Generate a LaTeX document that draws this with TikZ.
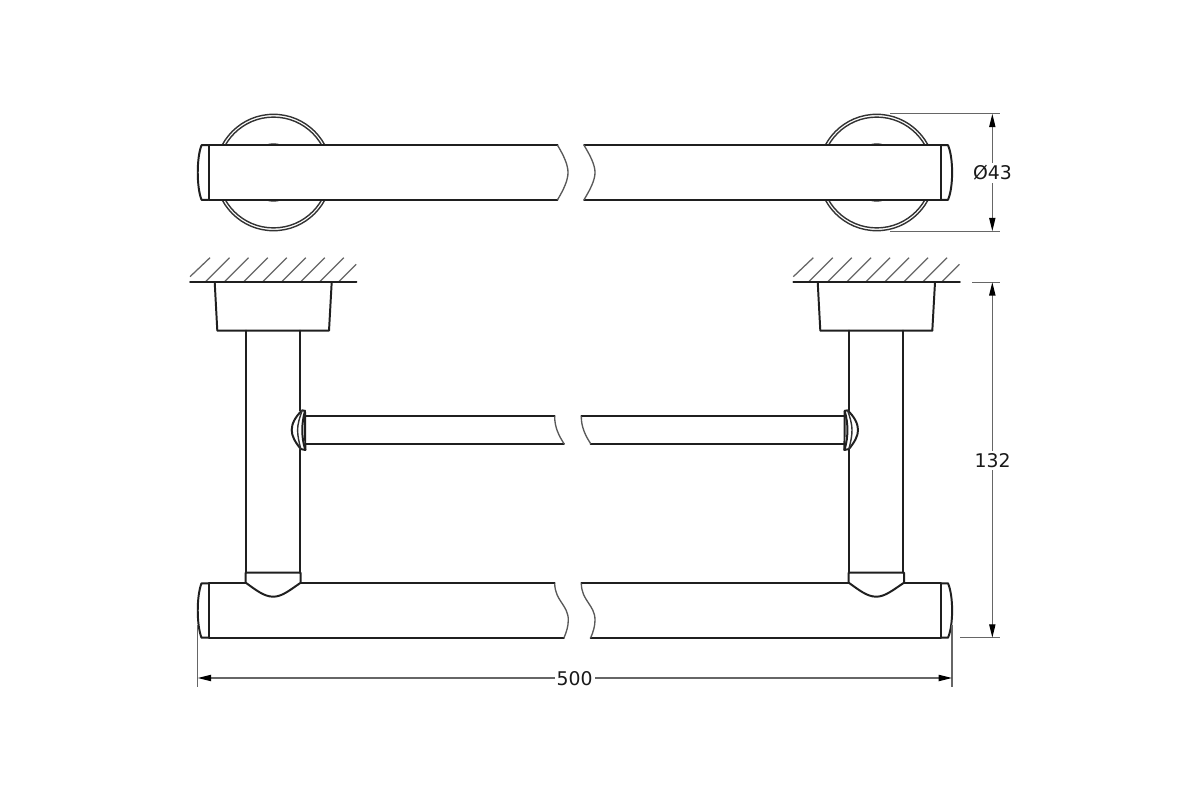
\documentclass[tikz,border=0pt]{standalone}
\usepackage{fontspec}
\setmainfont{DejaVu Sans}
\usetikzlibrary{arrows.meta}
\definecolor{dimgrey}{HTML}{666666}
\tikzset{
  outline/.style={draw=black!88,line width=1.4pt,line join=round,line cap=round},
  ring/.style={draw=black!80,line width=1pt},
  thinbreak/.style={draw=black!65,line width=0.95pt},
  hatchline/.style={draw=dimgrey,line width=0.9pt},
  extline/.style={draw=dimgrey,line width=0.9pt},
  dimline/.style={draw=dimgrey,line width=0.9pt,{Triangle[length=9.5pt,width=4.4pt,black]}-{Triangle[length=9.5pt,width=4.4pt,black]}},
  dimtext/.style={font=\fontsize{13.4pt}{16pt}\selectfont,text=black!90,fill=white,inner sep=1.5pt},
}
\begin{document}
\begin{tikzpicture}[x=0.025cm,y=-0.025cm]
\useasboundingbox[fill=white] (0,0) rectangle (1200,800);

% ---- top view: wall plates
\foreach \cx in {273.5,876.7}{
  \draw[ring] (\cx,172.5) circle[radius=58.2];
  \draw[ring] (\cx,172.5) circle[radius=55.4];
  \draw[ring] (\cx-7,145.2) .. controls (\cx-3,143.6) and (\cx+3,143.6) .. (\cx+7,145.2);
  \draw[ring] (\cx-7,199.8) .. controls (\cx-3,201.4) and (\cx+3,201.4) .. (\cx+7,199.8);
}
% ---- top view: bar, left part
\fill[white] (208.7,145.2) -- (557.5,145.2) -- (568,172.5) -- (557.5,199.8) -- (208.7,199.8) -- cycle;
\draw[outline] (557.5,145.2) -- (208.7,145.2) -- (208.7,199.8) -- (557.5,199.8);
\draw[outline] (208.7,145.2) -- (201.5,145.2) .. controls (196.5,158) and (196.5,187) .. (201.5,199.8) -- (208.7,199.8);
\draw[thinbreak] (557.5,145.2) .. controls (564,156) and (568,165) .. (568,172.5) .. controls (568,180) and (564,189) .. (557.5,199.8);
% ---- top view: bar, right part
\fill[white] (940.7,145.2) -- (584,145.2) -- (595,172.5) -- (584,199.8) -- (940.7,199.8) -- cycle;
\fill[white] (941,140) rectangle (955,205);
\draw[outline] (584,145.2) -- (940.7,145.2) -- (940.7,199.8) -- (584,199.8);
\draw[outline] (940.7,145.2) -- (948,145.2) .. controls (953.5,158) and (953.5,187) .. (948,199.8) -- (940.7,199.8);
\draw[thinbreak] (584,145.2) .. controls (590.5,156) and (595,165) .. (595,172.5) .. controls (595,180) and (590.5,189) .. (584,199.8);

% ---- wall hatching, left and right
\foreach \dx in {0,603.3}{
  \begin{scope}[xshift=\dx*0.025cm]
  \draw[hatchline] (190,276.7) -- (210,257.7);
  \foreach \s in {205,224,243.3,262.3,281.3,300.3,319.3}
    \draw[hatchline] (\s,282.2) -- (\s+24.5,257.7);
  \draw[hatchline] (338.3,282.2) -- (356.2,264.3);
  \draw[outline] (190,282.2) -- (356.5,282.2);
  \end{scope}
}
% ---- mounts
\draw[outline] (214.7,282.2) -- (217.3,330.7) -- (329,330.7) -- (331.7,282.2);
\draw[outline] (817.7,282.2) -- (820.3,330.7) -- (932.3,330.7) -- (935,282.2);

% ---- posts
\draw[outline] (246.3,330.7) -- (246.3,572.7);
\draw[outline] (300,330.7) -- (300,410.5);
\draw[outline] (300,449.5) -- (300,572.7);
\draw[outline] (849.3,330.7) -- (849.3,410.5);
\draw[outline] (849.3,449.5) -- (849.3,572.7);
\draw[outline] (903,330.7) -- (903,572.7);

% ---- middle bar and flanges
\draw[outline] (305,416.3) -- (554.7,416.3);
\draw[outline] (305,443.7) -- (564,443.7);
\draw[thinbreak] (554.7,416.3) .. controls (554.5,427) and (559,436) .. (564,443.7);
\draw[outline] (845,416.3) -- (581.3,416.3);
\draw[outline] (845,443.7) -- (590.7,443.7);
\draw[thinbreak] (581.3,416.3) .. controls (581.1,427) and (585.6,436) .. (590.7,443.7);
% left flange
\draw[outline] (302.2,410.3) -- (305,410.9) -- (305.3,450) -- (300.8,449) .. controls (295,442) and (291.7,436) .. (291.7,430) .. controls (291.7,424) and (295,417) .. (302.2,410.3);
\draw[ring] (302.2,410.3) .. controls (299.5,418) and (297.6,424) .. (297.6,430) .. controls (297.6,436) and (299,442) .. (300.8,449);
\draw[outline] (305,410.9) .. controls (303,418) and (302.3,424) .. (302.3,430) .. controls (302.3,436) and (303,443) .. (305.3,450);
% right flange
\draw[outline] (847.5,410.3) -- (844.7,410.9) -- (844.4,450) -- (848.9,449) .. controls (854.7,442) and (858,436) .. (858,430) .. controls (858,424) and (854.7,417) .. (847.5,410.3);
\draw[ring] (847.5,410.3) .. controls (850.2,418) and (852,424) .. (852,430) .. controls (852,436) and (850.7,442) .. (848.9,449);
\draw[outline] (844.7,410.9) .. controls (846.7,418) and (847.4,424) .. (847.4,430) .. controls (847.4,436) and (846.7,443) .. (844.4,450);

% ---- bottom bar, left part
\draw[outline] (245.7,583.3) -- (208.7,583.3) -- (208.7,637.7) -- (564,637.7);
\draw[outline] (300.7,583.3) -- (554.7,583.3);
\draw[outline] (208.7,583.3) -- (201.5,583.3) .. controls (196.5,596) and (196.5,625) .. (201.5,637.7) -- (208.7,637.7);
\draw[thinbreak] (554.7,583.5) .. controls (555,601) and (568.3,605) .. (568.3,620) .. controls (568.3,626) and (566.5,632) .. (564,637.7);
% ---- bottom bar, right part
\draw[outline] (848.7,583.3) -- (581.3,583.3);
\draw[outline] (904,583.3) -- (940.7,583.3) -- (940.7,637.7) -- (590.7,637.7);
\draw[outline] (940.7,583.3) -- (948,583.3) .. controls (953.5,596) and (953.5,625) .. (948,637.7) -- (940.7,637.7);
\draw[thinbreak] (581.3,583.5) .. controls (581.6,601) and (595,605) .. (595,620) .. controls (595,626) and (593.2,632) .. (590.7,637.7);
% ---- collars
\draw[outline] (245.7,572.7) -- (300.7,572.7) -- (300.7,582.7) .. controls (290,590) and (282,596.7) .. (273.3,596.7) .. controls (264,596.7) and (256,590) .. (245.7,582.7) -- cycle;
\draw[outline] (848.7,572.7) -- (904,572.7) -- (904,582.7) .. controls (893,590) and (885,596.7) .. (876.3,596.7) .. controls (867,596.7) and (859,590) .. (848.7,582.7) -- cycle;

% ---- dimension: diameter 43
\coordinate (d43topA) at (890,113.8);
\coordinate (d43topB) at (1000,113.8);
\coordinate (d43botA) at (890,231.2);
\coordinate (d43botB) at (1000,231.2);
\coordinate (d43t) at (992.3,113.8);
\coordinate (d43b) at (992.3,231.2);
\draw[extline] (d43topA) -- (d43topB);
\draw[extline] (d43botA) -- (d43botB);
\draw[dimline] (d43t) -- (d43b);
\node[dimtext] (t43) at (992.5,173) {Ø43};

% ---- dimension: 132
\coordinate (d132topA) at (972.3,282.2);
\coordinate (d132topB) at (1000,282.2);
\coordinate (d132botA) at (960,637.7);
\coordinate (d132botB) at (1000,637.7);
\coordinate (d132t) at (992.3,282.2);
\coordinate (d132b) at (992.3,637.7);
\draw[extline] (d132topA) -- (d132topB);
\draw[extline] (d132botA) -- (d132botB);
\draw[dimline] (d132t) -- (d132b);
\node[dimtext] (t132) at (992.5,460.5) {132};

% ---- dimension: 500
\coordinate (d500la) at (197.7,625);
\coordinate (d500lb) at (197.7,686.7);
\coordinate (d500ra) at (952,625);
\coordinate (d500rb) at (952,686.7);
\coordinate (d500l) at (197.7,678);
\coordinate (d500r) at (952,678);
\draw[extline] (d500la) -- (d500lb);
\draw[extline] (d500ra) -- (d500rb);
\draw[dimline] (d500l) -- (d500r);
\node[dimtext] (t500) at (574.7,678.5) {500};
\end{tikzpicture}
\end{document}
